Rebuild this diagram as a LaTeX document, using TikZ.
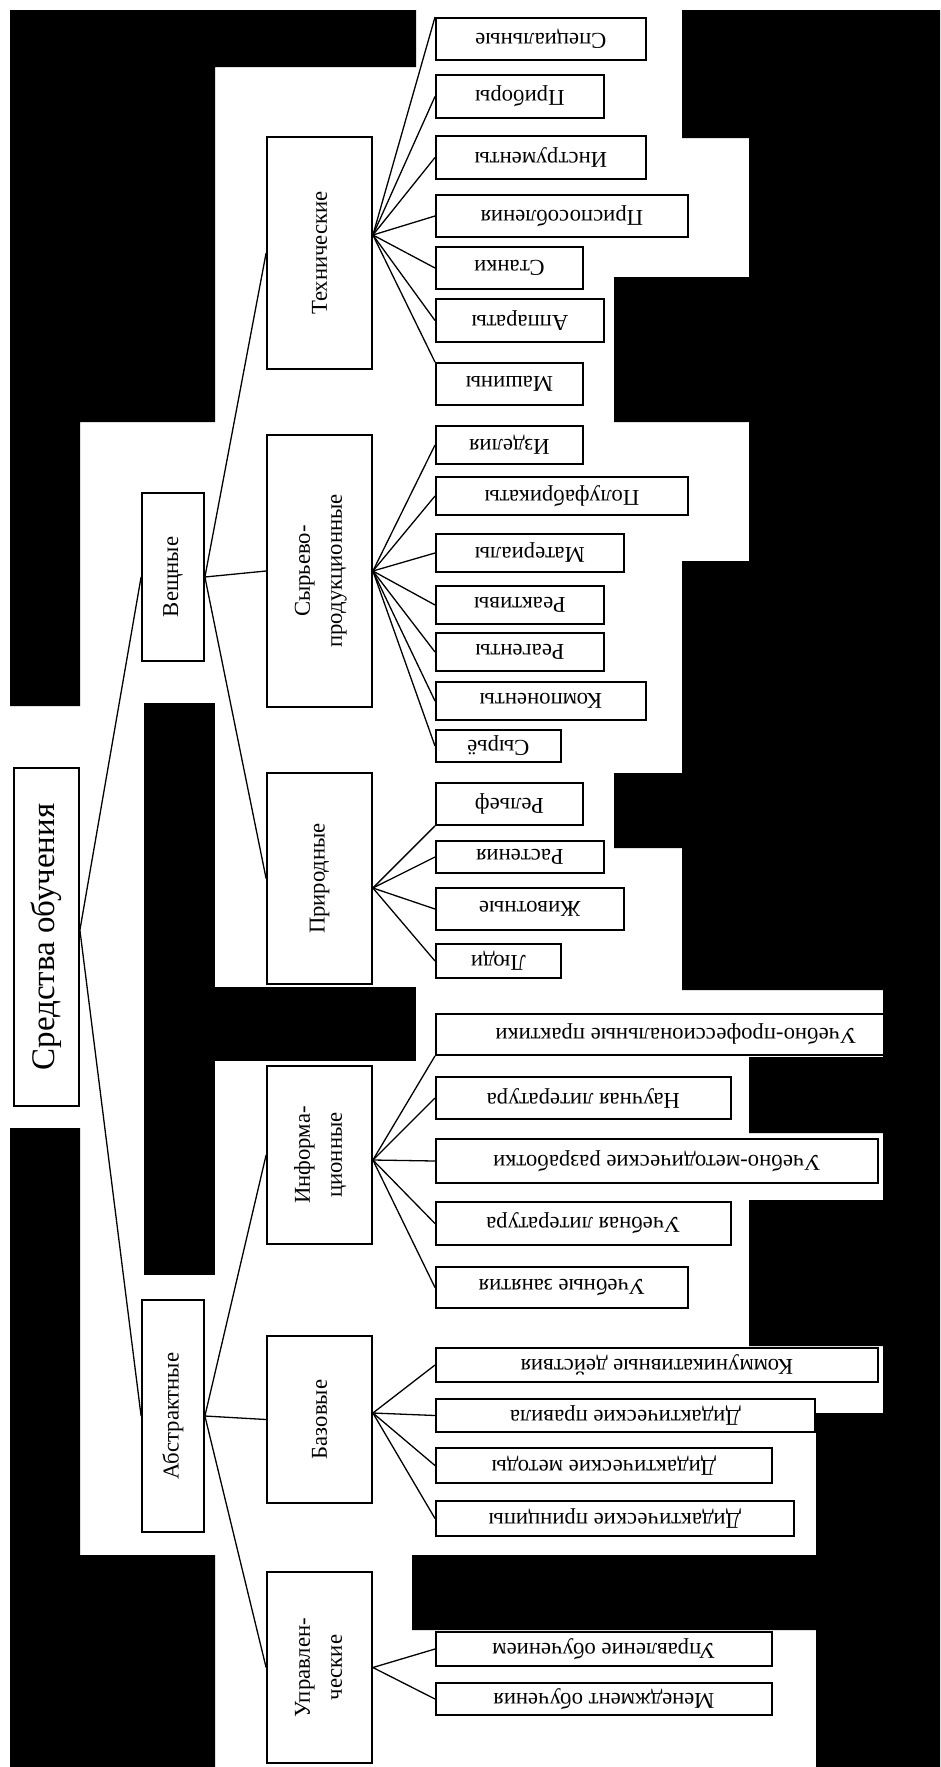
\documentclass[tikz,border=0pt]{standalone}
\usepackage{fontspec}
\setmainfont{Liberation Serif}
\newcommand{\flip}[1]{\rotatebox[origin=c]{180}{#1}}
\newcommand{\upr}[1]{\rotatebox[origin=c]{90}{#1}}
\tikzset{
  catbox/.style={draw, line width=1.8pt, fill=white, inner sep=0pt, align=center,
    font=\fontsize{22.7}{32}\selectfont},
  leafbox/.style={catbox, anchor=west},
  link/.style={line width=1.3pt},
  blackout/.style={fill=black, draw=none}
}
\begin{document}
\begin{tikzpicture}[x=1pt,y=-1pt]
\useasboundingbox (0,0) rectangle (940,1767);
\fill[white] (0,0) rectangle (940,1767);
% root and first level
\node[catbox, minimum width=65pt, minimum height=338pt, font=\fontsize{33}{38}\selectfont] (root) at (46.5,937) {\upr{Средства обучения}};
\node[catbox, minimum width=62pt, minimum height=168pt] (veshch) at (173,577) {\upr{Вещные}};
\node[catbox, minimum width=62pt, minimum height=232pt] (abstr) at (173,1416) {\upr{Абстрактные}};
% second level
\node[catbox, minimum width=105pt, minimum height=232pt] (tech) at (319.5,253) {\upr{Технические}};
\node[catbox, minimum width=105pt, minimum height=272pt] (syr) at (319.5,571) {\upr{\begin{tabular}{@{}c@{}}Сырьево-\\продукционные\end{tabular}}};
\node[catbox, minimum width=105pt, minimum height=211pt] (prir) at (319.5,878.5) {\upr{Природные}};
\node[catbox, minimum width=105pt, minimum height=178pt] (inform) at (319.5,1155) {\upr{\begin{tabular}{@{}c@{}}Информа-\\ционные\end{tabular}}};
\node[catbox, minimum width=105pt, minimum height=167pt] (baz) at (319.5,1419.5) {\upr{Базовые}};
\node[catbox, minimum width=105pt, minimum height=191pt] (upr) at (319.5,1667.5) {\upr{\begin{tabular}{@{}c@{}}Управлен-\\ческие\end{tabular}}};
% leaves: technical
\node[leafbox, minimum width=210pt, minimum height=42pt] (spec) at (435,39) {\flip{Специальные}};
\node[leafbox, minimum width=168pt, minimum height=43pt] (prib) at (435,96.5) {\flip{Приборы}};
\node[leafbox, minimum width=210pt, minimum height=43pt] (instr) at (435,157.5) {\flip{Инструменты}};
\node[leafbox, minimum width=252pt, minimum height=42pt] (prisp) at (435,216) {\flip{Приспособления}};
\node[leafbox, minimum width=147pt, minimum height=42pt] (stank) at (435,268) {\flip{Станки}};
\node[leafbox, minimum width=168pt, minimum height=43pt] (appar) at (435,320.5) {\flip{Аппараты}};
\node[leafbox, minimum width=147pt, minimum height=42pt] (mash) at (435,384) {\flip{Машины}};
% leaves: raw and production
\node[leafbox, minimum width=147pt, minimum height=38pt] (izd) at (435,445) {\flip{Изделия}};
\node[leafbox, minimum width=252pt, minimum height=38pt] (polu) at (435,496) {\flip{Полуфабрикаты}};
\node[leafbox, minimum width=188pt, minimum height=38pt] (mater) at (435,553) {\flip{Материалы}};
\node[leafbox, minimum width=168pt, minimum height=38pt] (reakt) at (435,605) {\flip{Реактивы}};
\node[leafbox, minimum width=168pt, minimum height=38pt] (reag) at (435,652) {\flip{Реагенты}};
\node[leafbox, minimum width=210pt, minimum height=38pt] (komp) at (435,701) {\flip{Компоненты}};
\node[leafbox, minimum width=125pt, minimum height=32pt] (syrio) at (435,746) {\flip{Сырьё}};
% leaves: natural
\node[leafbox, minimum width=147pt, minimum height=42pt] (rel) at (435,804) {\flip{Рельеф}};
\node[leafbox, minimum width=168pt, minimum height=32pt] (rast) at (435,857) {\flip{Растения}};
\node[leafbox, minimum width=188pt, minimum height=42pt] (zhiv) at (435,909) {\flip{Животные}};
\node[leafbox, minimum width=125pt, minimum height=34pt] (lyudi) at (435,961) {\flip{Люди}};
% leaves: informational
\node[leafbox, minimum width=480pt, minimum height=41pt] (prakt) at (435,1034.5) {\flip{Учебно-профессиональные практики}};
\node[leafbox, minimum width=295pt, minimum height=42pt] (nauch) at (435,1098) {\flip{Научная литература}};
\node[leafbox, minimum width=442pt, minimum height=44pt] (metod) at (435,1161) {\flip{Учебно-методические разработки}};
\node[leafbox, minimum width=295pt, minimum height=43pt] (uchlit) at (435,1223.5) {\flip{Учебная литература}};
\node[leafbox, minimum width=252pt, minimum height=41pt] (zan) at (435,1287.5) {\flip{Учебные занятия}};
% leaves: basic
\node[leafbox, minimum width=442pt, minimum height=34pt] (komm) at (435,1365) {\flip{Коммуникативные действия}};
\node[leafbox, minimum width=379pt, minimum height=33pt] (prav) at (435,1415.5) {\flip{Дидактические правила}};
\node[leafbox, minimum width=336pt, minimum height=35pt] (met) at (435,1465.5) {\flip{Дидактические методы}};
\node[leafbox, minimum width=358pt, minimum height=35pt] (princ) at (435,1518.5) {\flip{Дидактические принципы}};
% leaves: management
\node[leafbox, minimum width=336pt, minimum height=34pt] (uprob) at (435,1649) {\flip{Управление обучением}};
\node[leafbox, minimum width=336pt, minimum height=32pt] (menedzh) at (435,1699) {\flip{Менеджмент обучения}};
% connectors
\draw[link] ([yshift=7pt]root.east) -- (veshch.west);
\draw[link] ([yshift=7pt]root.east) -- (abstr.west);
\draw[link] (veshch.east) -- (tech.west);
\draw[link] (veshch.east) -- (syr.west);
\draw[link] (veshch.east) -- (prir.west);
\draw[link] (abstr.east) -- (inform.west);
\draw[link] (abstr.east) -- (baz.west);
\draw[link] (abstr.east) -- (upr.west);
\foreach \leaf/\side in {spec/north west,prib/west,instr/west,prisp/west,stank/west,appar/west,mash/north west}
  \draw[link] ([yshift=18pt]tech.east) -- (\leaf.\side);
\foreach \leaf in {izd,polu,mater,reakt,reag,komp,syrio}
  \draw[link] (syr.east) -- (\leaf.west);
\foreach \leaf/\side in {rel/south west,rast/west,zhiv/west,lyudi/west}
  \draw[link] ([yshift=-9.5pt]prir.east) -- (\leaf.\side);
\foreach \leaf/\side in {prakt/south west,nauch/west,metod/west,uchlit/west,zan/west}
  \draw[link] ([yshift=-5pt]inform.east) -- (\leaf.\side);
\foreach \leaf in {komm,prav,met,princ}
  \draw[link] ([yshift=6.5pt]baz.east) -- (\leaf.west);
\foreach \leaf in {uprob,menedzh}
  \draw[link] (upr.east) -- (\leaf.west);
% black areas round the drawing
\path[blackout] (10,10) -- (416,10) -- (416,67) -- (215,67) -- (215,422) -- (80,422) -- (80,706) -- (10,706) -- cycle;
\path[blackout] (144,703) rectangle (215,1275);
\path[blackout] (215,987) rectangle (416,1061);
\path[blackout] (10,1128) -- (80,1128) -- (80,1555) -- (215,1555) -- (215,1767) -- (10,1767) -- cycle;
\path[blackout] (940,10) -- (682,10) -- (682,138) -- (749,138) -- (749,277) -- (614,277) -- (614,422)
  -- (749,422) -- (749,561) -- (682,561) -- (682,773) -- (614,773) -- (614,848) -- (682,848) -- (682,990)
  -- (883,990) -- (883,1057) -- (749,1057) -- (749,1133) -- (883,1133) -- (883,1200) -- (749,1200)
  -- (749,1346) -- (883,1346) -- (883,1413) -- (816,1413) -- (816,1555) -- (412,1555) -- (412,1630)
  -- (816,1630) -- (816,1767) -- (940,1767) -- cycle;
\end{tikzpicture}
\end{document}
